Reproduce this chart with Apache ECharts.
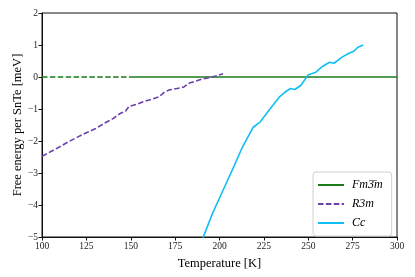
<!DOCTYPE html>
<html>
<head>
<meta charset="utf-8">
<script src="https://cdn.jsdelivr.net/npm/echarts@6/dist/echarts.min.js"></script>
<style>html,body{margin:0;padding:0;background:#fff}#c{width:415px;height:277px}</style>
</head>
<body>
<div id="c"></div>
<script>
var xTicks = [100, 125, 150, 175, 200, 225, 250, 275, 300];
var yTicks = [-5, -4, -3, -2, -1, 0, 1, 2];

var fmDashT = [100, 150];
var fmDashV = [0, 0];
var fmT = [150, 300];
var fmV = [0, 0];

var r3mT = [100, 105, 110, 115, 120, 125, 130, 135, 140, 144, 147, 149, 153, 157, 162, 166, 169, 172, 176, 180, 183, 186, 190, 194, 198, 202];
var r3mV = [-2.48, -2.33, -2.18, -2.02, -1.88, -1.74, -1.62, -1.45, -1.30, -1.14, -1.07, -0.92, -0.86, -0.77, -0.69, -0.62, -0.47, -0.40, -0.36, -0.31, -0.19, -0.14, -0.07, -0.02, 0.03, 0.10];

var ccT = [188, 191, 196, 202, 208, 213, 219, 223, 228, 234, 237, 240, 242.5, 246, 250, 254, 258, 262, 264.5, 269, 273.5, 275.5, 278, 281];
var ccV = [-5.6, -4.98, -4.27, -3.54, -2.81, -2.18, -1.57, -1.40, -1.03, -0.61, -0.47, -0.36, -0.39, -0.25, 0.07, 0.14, 0.33, 0.46, 0.43, 0.62, 0.76, 0.80, 0.93, 1.0];

function pairs(a, b) { return a.map(function (v, i) { return [v, b[i]]; }); }

var serif = 'Liberation Serif';
var chart = echarts.init(document.getElementById('c'), null, { renderer: 'canvas' });
chart.setOption({
  animation: false,
  backgroundColor: '#fff',
  grid: { left: 42, right: 18, top: 13, bottom: 40, show: true, borderColor: '#111', borderWidth: 1,
    backgroundColor: 'transparent', containLabel: false, outerBoundsMode: 'none' },
  legend: {
    data: ['Fm3̄m', 'R3m', 'Cc'],
    orient: 'vertical',
    left: 313, top: 172,
    itemWidth: 26, itemHeight: 10, itemGap: 7,
    padding: [7, 9, 7, 4],
    backgroundColor: '#fff',
    borderColor: '#d0d0d0', borderWidth: 1, borderRadius: 3,
    itemStyle: { opacity: 0 },
    textStyle: { fontFamily: serif, fontStyle: 'italic', fontSize: 12, color: '#000', padding: [0, 0, 0, 3] }
  },
  xAxis: {
    type: 'value', min: 100, max: 300, interval: 25,
    name: 'Temperature [K]', nameLocation: 'middle', nameGap: 20,
    nameTextStyle: { fontFamily: serif, fontSize: 12.5, color: '#000' },
    axisLine: { show: true, onZero: false, lineStyle: { color: '#111', width: 1 } },
    axisTick: { show: true, length: 3.5, lineStyle: { color: '#111' } },
    axisLabel: { fontFamily: serif, fontSize: 9.5, color: '#222', margin: 4 },
    splitLine: { show: false }
  },
  yAxis: {
    type: 'value', min: -5, max: 2, interval: 1,
    name: 'Free energy per SnTe [meV]', nameLocation: 'middle', nameGap: 18,
    nameMoveOverlap: false,
    nameTextStyle: { fontFamily: serif, fontSize: 12.5, color: '#000' },
    axisLine: { show: true, onZero: false, lineStyle: { color: '#111', width: 1 } },
    axisTick: { show: true, length: 3.5, lineStyle: { color: '#111' } },
    axisLabel: { fontFamily: serif, fontSize: 9.5, color: '#222', margin: 4,
      formatter: function (v) { return v < 0 ? '\u2212' + (-v) : '' + v; } },
    splitLine: { show: false }
  },
  series: [
    { name: 'Fm3̄m-low', type: 'line', data: pairs(fmDashT, fmDashV), symbol: 'none', z: 2,
      lineStyle: { color: '#1b7a1b', width: 1.6, type: [5.5, 2.4] }, itemStyle: { color: '#1b7a1b' } },
    { name: 'Fm3̄m', type: 'line', data: pairs(fmT, fmV), symbol: 'none', z: 2,
      lineStyle: { color: '#1b7a1b', width: 1.6 }, itemStyle: { color: '#1b7a1b' } },
    { name: 'R3m', type: 'line', data: pairs(r3mT, r3mV), symbol: 'none', z: 3,
      lineStyle: { color: '#6a40ab', width: 1.6, type: [5.5, 2.4] }, itemStyle: { color: '#6a40ab' } },
    { name: 'Cc', type: 'line', data: pairs(ccT, ccV), symbol: 'none', z: 3, clip: true,
      lineStyle: { color: '#12bff5', width: 1.6 }, itemStyle: { color: '#12bff5' } }
  ]
});
</script>
</body>
</html>
